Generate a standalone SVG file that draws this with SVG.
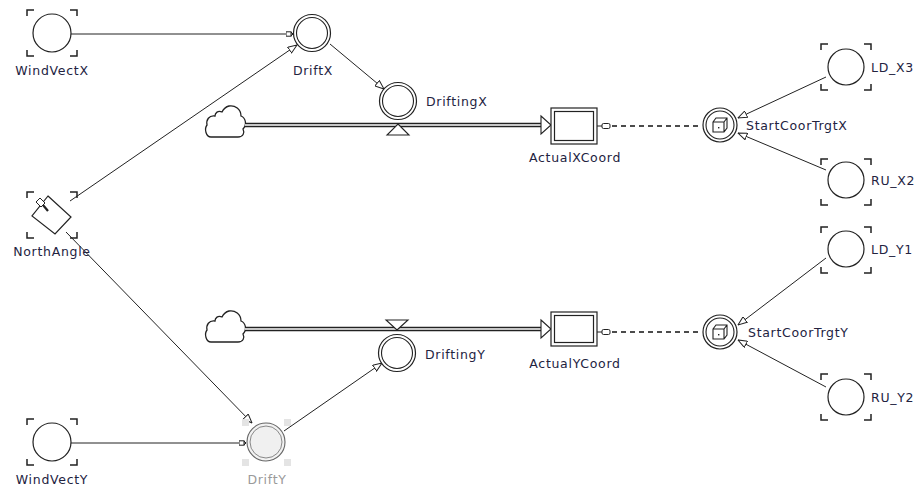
<svg xmlns="http://www.w3.org/2000/svg" width="924" height="488" viewBox="0 0 924 488">
  <style>
    .lbl { font-family: "DejaVu Sans", Verdana, sans-serif; font-size: 12.5px; letter-spacing: 0.7px; fill: #23233f; }
    .dim { fill: #9a9a9a; }
    .ln { stroke: #222; stroke-width: 1; fill: none; }
    .aux { fill: #fff; stroke: #222; stroke-width: 1.2; }
    .br { fill: none; stroke: #222; stroke-width: 1.5; }
    .dash { stroke: #111; stroke-width: 1.3; stroke-dasharray: 5 4; fill: none; }
    .pipeO { stroke: #222; stroke-width: 4.5; fill: none; }
    .pipeI { stroke: #fff; stroke-width: 1.6; fill: none; }
  </style>
  <defs>
    <marker id="arr" viewBox="0 0 10 8" refX="9.5" refY="4" markerWidth="10" markerHeight="8" markerUnits="userSpaceOnUse" orient="auto">
      <path d="M0.5,0.5 L9.5,4 L0.5,7.5 Z" fill="#fff" stroke="#222" stroke-width="1"/>
    </marker>
    <marker id="tail" viewBox="0 0 8 6" refX="7.5" refY="3" markerWidth="8" markerHeight="6" markerUnits="userSpaceOnUse" orient="auto">
      <rect x="0.5" y="0.8" width="5" height="4.4" fill="#fff" stroke="#222" stroke-width="1"/>
      <path d="M5.5,1 L7.5,3 L5.5,5" fill="none" stroke="#222" stroke-width="1"/>
    </marker>
    <!-- corner brackets of an input variable -->
    <g id="brackets">
      <path class="br" d="M-25,-17 V-23 H-18 M18,-23 H25 V-17 M-25,17 V23 H-18 M18,23 H25 V17"/>
    </g>
    <!-- source cloud of a flow -->
    <g id="cloud">
      <path d="M-15,16 H12 C17,16 19,12 17,8 C21,4 20,-3 15,-5 C15,-12 9,-16 3,-15 C-1,-14 -3,-11 -4,-9 C-8,-11 -11,-8 -11,-5 C-17,-6 -20,-1 -19,4 C-22,8 -20,16 -15,16 Z" fill="#fff" stroke="#222" stroke-width="1.3"/>
    </g>
  </defs>

  <!-- connectors -->
  <g id="connectors">
    <line class="ln" x1="71" y1="34" x2="293" y2="34" marker-end="url(#tail)"/>
    <line class="ln" x1="70" y1="201" x2="297" y2="45" marker-end="url(#arr)"/>
    <line class="ln" x1="330" y1="44" x2="384" y2="89" marker-end="url(#arr)"/>
    <line class="ln" x1="66" y1="232" x2="252" y2="423" marker-end="url(#arr)"/>
    <line class="ln" x1="71" y1="443" x2="246" y2="443" marker-end="url(#tail)"/>
    <line class="ln" x1="284" y1="431" x2="382" y2="363" marker-end="url(#arr)"/>
    <line class="ln" x1="826" y1="77" x2="738" y2="118" marker-end="url(#arr)"/>
    <line class="ln" x1="826" y1="170" x2="738" y2="133" marker-end="url(#arr)"/>
    <line class="ln" x1="826" y1="258" x2="738" y2="325" marker-end="url(#arr)"/>
    <line class="ln" x1="826" y1="387" x2="738" y2="340" marker-end="url(#arr)"/>
    <!-- dashed initial-value links -->
    <line class="dash" x1="612" y1="126" x2="702" y2="126"/>
    <line class="dash" x1="612" y1="332" x2="702" y2="332"/>
    <g fill="#fff" stroke="#222" stroke-width="1">
      <rect x="602" y="123.5" width="8" height="5" rx="1.5"/>
      <rect x="602" y="329.5" width="8" height="5" rx="1.5"/>
    </g>
    <line class="ln" x1="597" y1="126" x2="602" y2="126"/>
    <line class="ln" x1="597" y1="332" x2="602" y2="332"/>
  </g>

  <!-- flow X -->
  <g id="flowX">
    <use href="#cloud" x="226" y="121"/>
    <line class="pipeO" x1="245" y1="125" x2="543" y2="125"/>
    <line class="pipeI" x1="245" y1="125" x2="543" y2="125"/>
    <path d="M541,116 L551,125 L541,134 Z" fill="#fff" stroke="#222" stroke-width="1.1"/>
    <path d="M398,124 L409,135 L387,135 Z" fill="#fff" stroke="#222" stroke-width="1.1"/>
  </g>
  <!-- flow Y -->
  <g id="flowY">
    <use href="#cloud" x="226" y="326"/>
    <line class="pipeO" x1="245" y1="329" x2="543" y2="329"/>
    <line class="pipeI" x1="245" y1="329" x2="543" y2="329"/>
    <path d="M541,320 L551,329 L541,338 Z" fill="#fff" stroke="#222" stroke-width="1.1"/>
    <path d="M397,330 L408,320 L386,320 Z" fill="#fff" stroke="#222" stroke-width="1.1"/>
  </g>

  <!-- input variables -->
  <g id="WindVectX">
    <use href="#brackets" x="52" y="33"/>
    <circle class="aux" cx="52" cy="33" r="19"/>
    <text class="lbl" x="52" y="75" text-anchor="middle">WindVectX</text>
  </g>
  <g id="WindVectY">
    <use href="#brackets" x="52" y="442"/>
    <circle class="aux" cx="52" cy="442" r="19"/>
    <text class="lbl" x="52" y="484" text-anchor="middle">WindVectY</text>
  </g>
  <g id="NorthAngle">
    <use href="#brackets" x="52" y="215"/>
    <path d="M48,196 L71,217 L55,234 L32,216 Z" fill="#fff" stroke="#222" stroke-width="1.2"/>
    <path d="M36,202 L40,198 L45,203 L41,207 Z" fill="#fff" stroke="#222" stroke-width="1"/>
    <line x1="43" y1="205" x2="48" y2="211" stroke="#222" stroke-width="2.2"/>
    <text class="lbl" x="52" y="256" text-anchor="middle">NorthAngle</text>
  </g>
  <g id="LD_X3">
    <use href="#brackets" x="846" y="67"/>
    <circle class="aux" cx="846" cy="67" r="18"/>
    <text class="lbl" x="871" y="72">LD_X3</text>
  </g>
  <g id="RU_X2">
    <use href="#brackets" x="846" y="182"/>
    <circle class="aux" cx="846" cy="180" r="18"/>
    <text class="lbl" x="871" y="185">RU_X2</text>
  </g>
  <g id="LD_Y1">
    <use href="#brackets" x="846" y="250"/>
    <circle class="aux" cx="846" cy="249" r="18"/>
    <text class="lbl" x="871" y="254">LD_Y1</text>
  </g>
  <g id="RU_Y2">
    <use href="#brackets" x="846" y="397"/>
    <circle class="aux" cx="846" cy="397" r="18"/>
    <text class="lbl" x="871" y="402">RU_Y2</text>
  </g>

  <!-- auxiliaries -->
  <g id="DriftX">
    <circle class="aux" cx="312" cy="33" r="18.5"/>
    <circle cx="312" cy="33" r="15.5" fill="none" stroke="#222" stroke-width="1.1"/>
    <text class="lbl" x="313" y="75" text-anchor="middle">DriftX</text>
  </g>
  <g id="DriftingX">
    <circle class="aux" cx="398" cy="101" r="18.5"/>
    <circle cx="398" cy="101" r="15.5" fill="none" stroke="#222" stroke-width="1.1"/>
    <text class="lbl" x="426" y="106">DriftingX</text>
  </g>
  <g id="DriftingY">
    <circle class="aux" cx="397" cy="353" r="18.5"/>
    <circle cx="397" cy="353" r="15.5" fill="none" stroke="#222" stroke-width="1.1"/>
    <text class="lbl" x="425" y="359">DriftingY</text>
  </g>
  <g id="DriftY">
    <g fill="#e4e4e4">
      <rect x="242" y="419" width="7" height="7"/>
      <rect x="284" y="419" width="7" height="7"/>
      <rect x="242" y="459" width="7" height="7"/>
      <rect x="284" y="459" width="7" height="7"/>
    </g>
    <circle cx="266" cy="442" r="19" fill="#f2f2f2" stroke="#666" stroke-width="1.1"/>
    <circle cx="266" cy="442" r="16" fill="#f0f0f0" stroke="#888" stroke-width="1"/>
    <text class="lbl dim" x="267" y="484" text-anchor="middle">DriftY</text>
  </g>

  <!-- stocks -->
  <g id="ActualXCoord">
    <rect x="551" y="108" width="46" height="36" fill="#fff" stroke="#222" stroke-width="1.2"/>
    <rect x="554.5" y="111.5" width="39" height="29" fill="#fff" stroke="#222" stroke-width="1.2"/>
    <text class="lbl" x="575" y="162" text-anchor="middle">ActualXCoord</text>
  </g>
  <g id="ActualYCoord">
    <rect x="551" y="312" width="46" height="34" fill="#fff" stroke="#222" stroke-width="1.2"/>
    <rect x="554.5" y="315.5" width="39" height="27" fill="#fff" stroke="#222" stroke-width="1.2"/>
    <text class="lbl" x="575" y="368" text-anchor="middle">ActualYCoord</text>
  </g>

  <!-- random-initial auxiliaries -->
  <g id="StartCoorTrgtX">
    <circle class="aux" cx="720" cy="125" r="17"/>
    <circle cx="720" cy="125" r="14" fill="none" stroke="#222" stroke-width="1.1"/>
    <path d="M713,122 L716,118 L727,118 L727,128 L724,132 L713,132 Z M713,122 H724 V132 M724,122 L727,118" fill="#fff" stroke="#222" stroke-width="1.1"/>
    <rect x="718" y="127" width="1.4" height="1.4" fill="#222"/>
    <text class="lbl" x="746" y="130">StartCoorTrgtX</text>
  </g>
  <g id="StartCoorTrgtY">
    <circle class="aux" cx="720" cy="332" r="17"/>
    <circle cx="720" cy="332" r="14" fill="none" stroke="#222" stroke-width="1.1"/>
    <path d="M713,329 L716,325 L727,325 L727,335 L724,339 L713,339 Z M713,329 H724 V339 M724,329 L727,325" fill="#fff" stroke="#222" stroke-width="1.1"/>
    <rect x="718" y="334" width="1.4" height="1.4" fill="#222"/>
    <text class="lbl" x="748" y="337">StartCoorTrgtY</text>
  </g>
</svg>
